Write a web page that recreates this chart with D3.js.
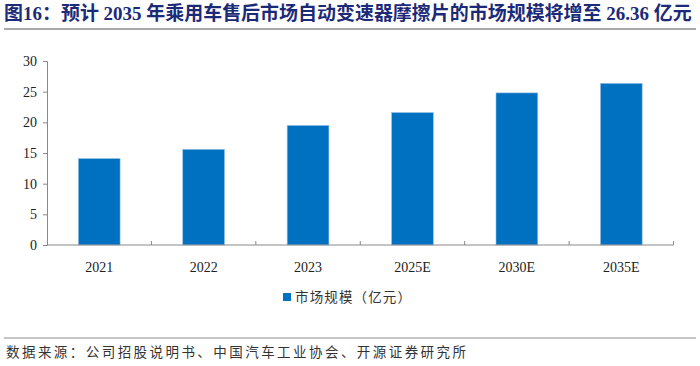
<!DOCTYPE html>
<html><head><meta charset="utf-8">
<script src="https://cdn.jsdelivr.net/npm/d3@7"></script>
<style>body{margin:0;background:#fff}svg{display:block}</style>
</head><body>
<svg id="c" width="700" height="366"></svg>
<script>
const categories = ["2021","2022","2023","2025E","2030E","2035E"];
const values = [14.1, 15.6, 19.5, 21.6, 24.8, 26.36];
const yTicks = [0,5,10,15,20,25,30];
const titleText = "图16：预计 2035 年乘用车售后市场自动变速器摩擦片的市场规模将增至 26.36 亿元";
const legendLabel = "市场规模（亿元）";
const sourceText = "数据来源：公司招股说明书、中国汽车工业协会、开源证券研究所";

const svg = d3.select("#c");
const serif = "'Liberation Serif','Times New Roman','Noto Sans CJK SC',serif";
const cjk = "'Liberation Serif','Noto Sans CJK SC',sans-serif";

function fitWidth(sel, target) {
  const w = sel.node().getComputedTextLength();
  if (w > 0) sel.attr("textLength", target).attr("lengthAdjust", "spacing");
}

// title
const t = svg.append("text").attr("x",4).attr("y",20)
  .attr("font-family", serif).attr("font-weight","bold").attr("font-size",17)
  .attr("fill","#1c2a78").text(titleText);
const tl = t.node().getComputedTextLength();
if (tl > 0) t.attr("font-size", 17*688/tl);
svg.append("line").attr("x1",4).attr("x2",696).attr("y1",29).attr("y2",29)
  .attr("stroke","#8c8c8c").attr("stroke-width",1.5);

const x = d3.scaleBand().domain(categories).range([47,673.5]).paddingInner(0.6).paddingOuter(0.3);
const y = d3.scaleLinear().domain([0,30]).range([245,61]);

// bars
svg.append("g").selectAll("rect").data(values).join("rect")
  .attr("x",(d,i)=>x(categories[i])).attr("width",x.bandwidth())
  .attr("y",d=>y(d)).attr("height",d=>y(0)-y(d))
  .attr("fill","#0070c0").attr("stroke","#9cc3e8").attr("stroke-width",0.6);

// y axis
const ya = svg.append("g").attr("transform","translate(47,0)")
  .call(d3.axisLeft(y).tickValues(yTicks).tickSize(4).tickPadding(6));
ya.select(".domain").attr("stroke","#898989");
ya.selectAll(".tick line").attr("stroke","#898989");
ya.selectAll("text").attr("font-family",serif).attr("font-size",14).attr("fill","#222");

// x axis line and separators
const step = x.step();
const xa = svg.append("g");
xa.append("line").attr("x1",47).attr("x2",673.5).attr("y1",y(0)).attr("y2",y(0))
  .attr("stroke","#898989");
const seps = categories.map(c => x(c) + x.bandwidth() + (step - x.bandwidth())/2);
xa.selectAll("line.sep").data(seps).join("line").attr("class","sep")
  .attr("x1",d=>d).attr("x2",d=>d).attr("y1",y(0)).attr("y2",y(0)-4)
  .attr("stroke","#898989");
xa.selectAll("text").data(categories).join("text")
  .attr("x",d=>x(d)+x.bandwidth()/2).attr("y",272)
  .attr("text-anchor","middle").attr("font-family",serif).attr("font-size",14).attr("fill","#222")
  .text(d=>d);

// legend
svg.append("rect").attr("x",283).attr("y",293).attr("width",8).attr("height",8).attr("fill","#0070c0");
const lg = svg.append("text").attr("x",295).attr("y",302).attr("font-family",cjk).attr("font-size",13.5)
  .attr("fill","#333").text(legendLabel);
fitWidth(lg, 116);

// source
svg.append("line").attr("x1",4).attr("x2",696).attr("y1",338).attr("y2",338)
  .attr("stroke","#8c8c8c").attr("stroke-width",1);
const src = svg.append("text").attr("x",6).attr("y",357).attr("font-family",cjk).attr("font-size",13.5)
  .attr("fill","#333").text(sourceText);
fitWidth(src, 460);
</script>
</body></html>
